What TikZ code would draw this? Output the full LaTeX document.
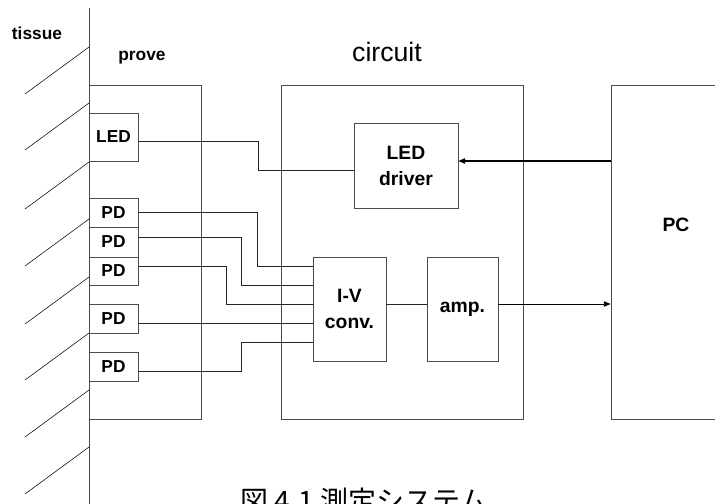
\documentclass[tikz,border=0pt]{standalone}
\usepackage{fontspec}
\setmainfont{Liberation Sans}
\newfontfamily\jpfont{Noto Sans CJK JP}
\usepackage{tikz}
\usetikzlibrary{arrows.meta, calc}

\begin{document}
\begin{tikzpicture}[
    x=0.75pt, y=-0.75pt,
    every node/.style={inner sep=0pt, align=center, font=\bfseries\fontsize{13}{15}\selectfont},
    box/.style={draw=black!70, line width=0.6pt, rectangle},
    big/.style={font=\bfseries\fontsize{14.5}{19.5}\selectfont},
    wire/.style={draw=black!85, line width=0.5pt},
    arrow/.style={-{Triangle[length=5pt,width=4pt]}, line width=0.9pt}
]
\useasboundingbox (0,0) rectangle (715,504);

% Tissue surface
\draw[draw=black!70, line width=0.6pt] (89,8) -- (89,510);
\foreach \y in {47,103,162,219,277,333,390,447}
    \draw[line width=0.4pt] (89,\y) -- ++(-64,47);

% Titles
\node (tissue) at (37,33) {tissue};
\node (provetitle) at (142,58) {prove};
\node[font=\fontsize{20}{24}\selectfont] (circuittitle) at (387,52) {circuit};

% Outer boxes
\node[box, minimum width=84pt, minimum height=250.5pt] (prove) at (145,252) {};
\node[box, minimum width=181.5pt, minimum height=250.5pt] (circuit) at (402,252) {};
\node[box, minimum width=97.5pt, minimum height=250.5pt] (pc) at (676,252) {};
\node[big] (pclabel) at (676,225) {PC};

% Probe elements
\node[box, minimum width=36.75pt, minimum height=36pt] (led) at (113.5,137) {LED};
\foreach \n/\y/\h in {1/212.5/21.75, 2/242/22.5, 3/271/21, 4/318.5/21.75, 5/366.5/21.75}
    \node[box, minimum width=36.75pt, minimum height=\h pt] (pd\n) at (113.5,\y) {PD};

% Circuit blocks
\node[box, big, minimum width=78pt, minimum height=63.75pt] (driver) at (406,165.5) {LED\\driver};
\node[box, big, minimum width=54.75pt, minimum height=78pt] (iv) at (349.5,309) {I-V\\conv.};
\node[box, big, minimum width=53.25pt, minimum height=78pt] (amp) at (462.5,309) {amp.};

% LED wiring
\draw[wire] ($(led.east)+(0,4)$) -- ++(120,0) |- ($(driver.west)+(0,4.5)$);

% PD wiring
\foreach \n/\dy/\dx/\iy in {1/-0.5/119/-43, 2/-5/103/-24, 3/-5/88/-5, 5/4.5/103/33}
    \draw[wire] ($(pd\n.east)+(0,\dy)$) -- ++(\dx,0) |- ($(iv.west)+(0,\iy)$);
\draw[wire] ($(pd4.east)+(0,4.5)$) -- ($(iv.west)+(0,14)$);

% Signal path
\draw[wire] ($(iv.east)+(0,-5)$) -- ($(amp.west)+(0,-5)$);
\coordinate (ampout) at ($(amp.east)+(0,-5)$);
\draw[arrow, line width=0.6pt] (ampout) -- (ampout -| pc.west);
\coordinate (drvin) at ($(driver.east)+(0,-4.5)$);
\draw[arrow] (drvin -| pc.west) -- (drvin);

% Caption
\node[font=\jpfont\fontsize{21}{24}\selectfont, anchor=base] (caption) at (364,511) {図 4.1 測定システム};

\end{tikzpicture}
\end{document}
